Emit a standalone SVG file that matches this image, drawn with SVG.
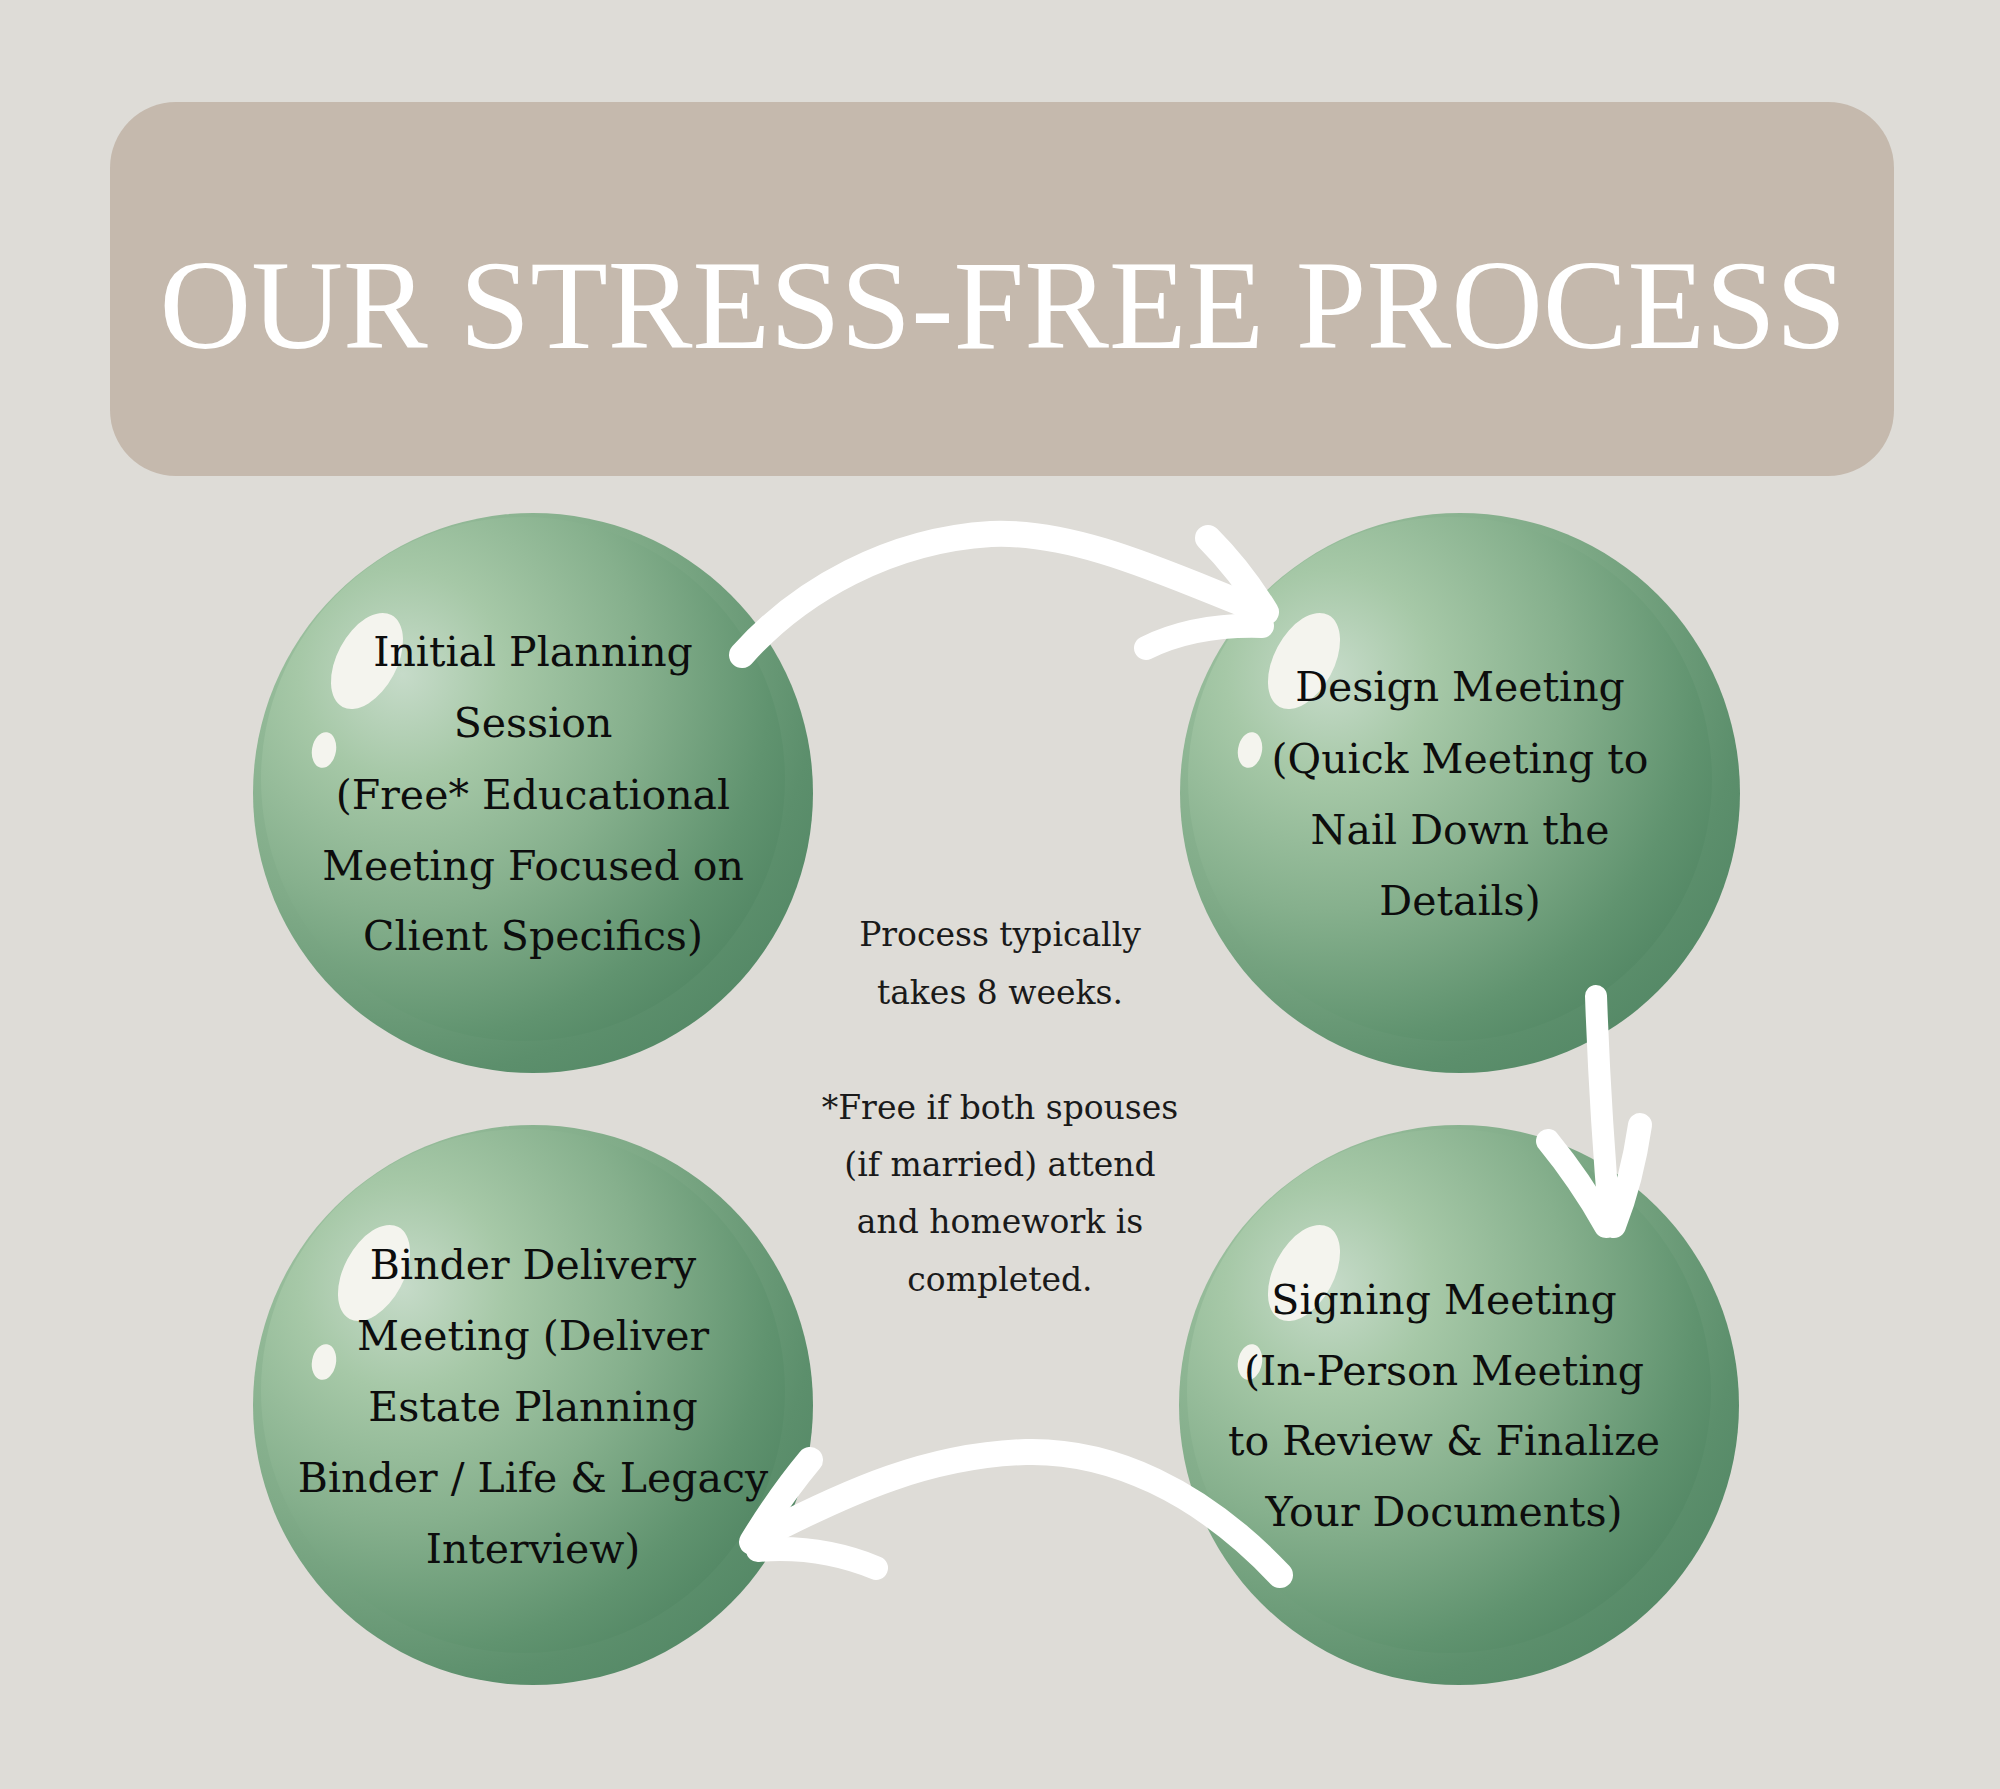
<svg xmlns="http://www.w3.org/2000/svg" width="2000" height="1789" viewBox="0 0 2000 1789">
  <defs>
    <radialGradient id="ball" cx="0.27" cy="0.3" r="0.9" fx="0.27" fy="0.3">
      <stop offset="0" stop-color="#c6dbc9"/>
      <stop offset="0.22" stop-color="#a6c8a7"/>
      <stop offset="0.5" stop-color="#86b08d"/>
      <stop offset="0.78" stop-color="#60936f"/>
      <stop offset="1" stop-color="#4b805e"/>
    </radialGradient>
    <radialGradient id="rim" cx="0.25" cy="0.25" r="0.95">
      <stop offset="0" stop-color="#a6c8a7"/>
      <stop offset="0.5" stop-color="#80ab88"/>
      <stop offset="0.8" stop-color="#5c8f6c"/>
      <stop offset="1" stop-color="#4f8462"/>
    </radialGradient>
    <style>
      .node-text { font-family: "DejaVu Serif", "Liberation Serif", serif; font-size: 41px; fill: #0d0d0d; text-anchor: middle; }
      .note { font-family: "DejaVu Serif", "Liberation Serif", serif; font-size: 33px; fill: #1a1a1a; text-anchor: middle; }
      .title { font-family: "Liberation Serif", "Times New Roman", serif; font-size: 127px; fill: #ffffff; text-anchor: middle; }
      .shine { fill: #f4f4ee; }
      .arrow { fill: none; stroke: #ffffff; stroke-linecap: round; stroke-linejoin: round; }
    </style>
  </defs>

  <rect x="0" y="0" width="2000" height="1789" fill="#dedcd7"/>

  <g id="header">
    <rect x="110" y="102" width="1784" height="374" rx="66" ry="66" fill="#c5b9ad"/>
    <text class="title" x="1003" y="348">OUR STRESS-FREE PROCESS</text>
  </g>

  <g id="node-initial">
    <circle cx="533" cy="793" r="280" fill="url(#rim)"/>
    <circle cx="523" cy="779" r="262" fill="url(#ball)"/>
    <ellipse class="shine" cx="367" cy="661" rx="30" ry="52" transform="rotate(28 367 661)"/>
    <ellipse class="shine" cx="324" cy="750" rx="12" ry="18" transform="rotate(10 324 750)"/>
    <text class="node-text" x="533" y="666">Initial Planning</text>
    <text class="node-text" x="533" y="737">Session</text>
    <text class="node-text" x="533" y="809">(Free* Educational</text>
    <text class="node-text" x="533" y="880">Meeting Focused on</text>
    <text class="node-text" x="533" y="950">Client Specifics)</text>
  </g>

  <g id="node-design">
    <circle cx="1460" cy="793" r="280" fill="url(#rim)"/>
    <circle cx="1450" cy="779" r="262" fill="url(#ball)"/>
    <ellipse class="shine" cx="1304" cy="661" rx="30" ry="52" transform="rotate(28 1304 661)"/>
    <ellipse class="shine" cx="1250" cy="750" rx="12" ry="18" transform="rotate(10 1250 750)"/>
    <text class="node-text" x="1460" y="701">Design Meeting</text>
    <text class="node-text" x="1460" y="773">(Quick Meeting to</text>
    <text class="node-text" x="1460" y="844">Nail Down the</text>
    <text class="node-text" x="1460" y="915">Details)</text>
  </g>

  <g id="node-signing">
    <circle cx="1459" cy="1405" r="280" fill="url(#rim)"/>
    <circle cx="1449" cy="1391" r="262" fill="url(#ball)"/>
    <ellipse class="shine" cx="1304" cy="1273" rx="30" ry="52" transform="rotate(28 1304 1273)"/>
    <ellipse class="shine" cx="1250" cy="1362" rx="12" ry="18" transform="rotate(10 1250 1362)"/>
    <text class="node-text" x="1444" y="1314">Signing Meeting</text>
    <text class="node-text" x="1444" y="1385">(In-Person Meeting</text>
    <text class="node-text" x="1444" y="1455">to Review &amp; Finalize</text>
    <text class="node-text" x="1444" y="1526">Your Documents)</text>
  </g>

  <g id="node-binder">
    <circle cx="533" cy="1405" r="280" fill="url(#rim)"/>
    <circle cx="523" cy="1391" r="262" fill="url(#ball)"/>
    <ellipse class="shine" cx="374" cy="1273" rx="30" ry="52" transform="rotate(28 374 1273)"/>
    <ellipse class="shine" cx="324" cy="1362" rx="12" ry="18" transform="rotate(10 324 1362)"/>
    <text class="node-text" x="533" y="1279">Binder Delivery</text>
    <text class="node-text" x="533" y="1350">Meeting (Deliver</text>
    <text class="node-text" x="533" y="1421">Estate Planning</text>
    <text class="node-text" x="533" y="1492">Binder / Life &amp; Legacy</text>
    <text class="node-text" x="533" y="1563">Interview)</text>
  </g>

  <g id="note">
    <text class="note" x="1000" y="946">Process typically</text>
    <text class="note" x="1000" y="1004">takes 8 weeks.</text>
    <text class="note" x="1000" y="1119">*Free if both spouses</text>
    <text class="note" x="1000" y="1176">(if married) attend</text>
    <text class="note" x="1000" y="1233">and homework is</text>
    <text class="note" x="1000" y="1291">completed.</text>
  </g>

  <g id="connectors">
    <!-- Initial -> Design -->
    <path class="arrow" stroke-width="26" d="M 742 655 C 800 590, 890 540, 991 534 C 1080 530, 1180 580, 1264 612"/>
    <path class="arrow" stroke-width="26" d="M 1208 538 Q 1240 570 1266 612"/>
    <path class="arrow" stroke-width="24" d="M 1146 648 Q 1195 624 1262 626"/>
    <!-- Design -> Signing -->
    <path class="arrow" stroke-width="22" d="M 1596 996 Q 1600 1110 1610 1226"/>
    <path class="arrow" stroke-width="24" d="M 1548 1141 Q 1580 1180 1606 1226"/>
    <path class="arrow" stroke-width="24" d="M 1640 1125 Q 1632 1180 1614 1226"/>
    <!-- Signing -> Binder -->
    <path class="arrow" stroke-width="26" d="M 1280 1575 C 1200 1490, 1110 1450, 1026 1452 C 930 1455, 850 1490, 754 1540"/>
    <path class="arrow" stroke-width="26" d="M 810 1460 Q 780 1496 752 1542"/>
    <path class="arrow" stroke-width="24" d="M 758 1550 Q 820 1545 876 1568"/>
  </g>
</svg>
